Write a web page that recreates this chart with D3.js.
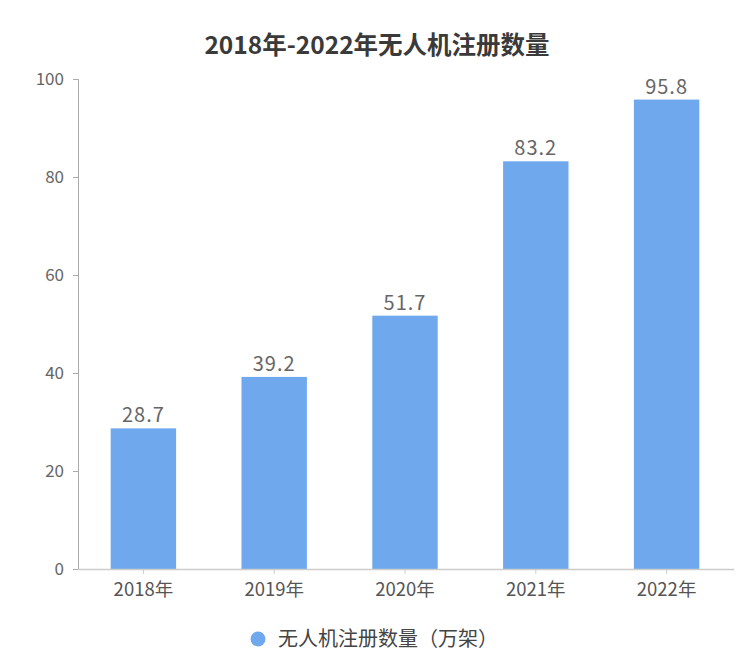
<!DOCTYPE html>
<html>
<head>
<meta charset="utf-8">
<script src="https://cdn.jsdelivr.net/npm/d3@7.9.0/dist/d3.min.js"></script>
<style>
  body { margin: 0; background: #fff; }
  svg text { font-family: "Noto Sans CJK SC", "Noto Sans", sans-serif; }
</style>
</head>
<body>
<svg width="756" height="662"></svg>
<script>
const years = ['2018年', '2019年', '2020年', '2021年', '2022年'];
const counts = [28.7, 39.2, 51.7, 83.2, 95.8];
const yTicks = [0, 20, 40, 60, 80, 100];
const seriesName = '无人机注册数量（万架）';
const titleText = '2018年-2022年无人机注册数量';

const svg = d3.select('svg');
const barColor = '#6fa8ec';

const x = d3.scaleBand().domain(years).range([78, 732]).paddingInner(0.5).paddingOuter(0.25);
const y = d3.scaleLinear().domain([0, 100]).range([569, 79]);

// title
svg.append('text')
  .attr('x', 377).attr('y', 54)
  .attr('text-anchor', 'middle')
  .attr('font-size', 24.5).attr('font-weight', 'bold')
  .attr('fill', '#3a3a3a')
  .text(titleText);

// y axis
const yAxis = svg.append('g')
  .attr('transform', 'translate(78,0)')
  .call(d3.axisLeft(y).tickValues(yTicks).tickSize(5).tickPadding(9));
yAxis.select('.domain').attr('stroke', '#aaa');
yAxis.selectAll('.tick line').attr('stroke', '#aaa');
yAxis.selectAll('.tick text').attr('fill', '#666').attr('font-size', 17)
  .style('font-family', '"Noto Sans CJK SC", sans-serif');

// bars
svg.selectAll('rect.bar')
  .data(counts)
  .join('rect')
  .attr('class', 'bar')
  .attr('x', (d, i) => x(years[i]))
  .attr('width', x.bandwidth())
  .attr('y', d => y(d))
  .attr('height', d => y(0) - y(d))
  .attr('fill', barColor);

// value labels
svg.selectAll('text.val')
  .data(counts)
  .join('text')
  .attr('class', 'val')
  .attr('x', (d, i) => x(years[i]) + x.bandwidth() / 2)
  .attr('y', d => y(d) - 6)
  .attr('text-anchor', 'middle')
  .attr('font-size', 20)
  .attr('letter-spacing', 1)
  .attr('fill', '#666')
  .text(d => d.toFixed(1));

// x axis
const xAxis = svg.append('g')
  .attr('transform', `translate(0,${y(0)})`)
  .call(d3.axisBottom(x).tickSize(5).tickPadding(9).tickSizeOuter(0));
xAxis.select('.domain').attr('stroke', '#ccc').attr('stroke-width', 1.5)
  .attr('d', 'M78,0.5H734');
xAxis.selectAll('.tick line').attr('stroke', '#ccc');
xAxis.selectAll('.tick text').attr('fill', '#555').attr('font-size', 18.5)
  .style('font-family', '"Noto Sans CJK SC", sans-serif');

// legend
const legend = svg.append('g').attr('transform', 'translate(258,639)');
legend.append('circle').attr('r', 7.5).attr('fill', barColor);
legend.append('text')
  .attr('x', 20).attr('y', 7)
  .attr('font-size', 20).attr('fill', '#444')
  .text(seriesName);
</script>
</body>
</html>
